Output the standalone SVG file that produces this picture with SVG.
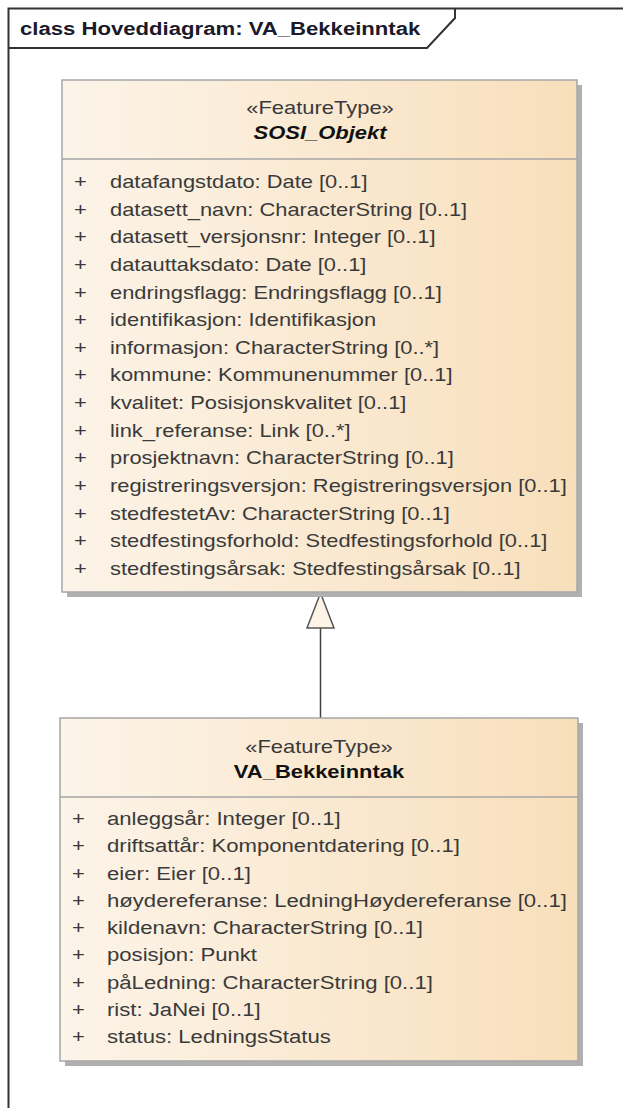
<svg xmlns="http://www.w3.org/2000/svg" width="623" height="1108" viewBox="0 0 623 1108">
<defs>
<linearGradient id="fill" x1="0" y1="0" x2="1" y2="0">
<stop offset="0" stop-color="#fcf4e9"/>
<stop offset="1" stop-color="#f8dfbb"/>
</linearGradient>
</defs>
<style>
text{font-family:"Liberation Sans",Arial,sans-serif;font-size:18px;fill:#3a3a3a}
.title{font-weight:bold;fill:#1a1a2a}
.name{font-weight:bold;fill:#111}
.ital{font-style:italic}
.box{fill:url(#fill);stroke:#a6a6a6;stroke-width:1.5}
.shadow{fill:#b0b0b0}
.div{stroke:#a6a6a6;stroke-width:1.5}
.frame{fill:none;stroke:#333;stroke-width:2}
.conn{stroke:#404040;stroke-width:1.5;fill:none}
.head{fill:#fdf3e6;stroke:#555;stroke-width:1.5}
</style>
<g id="frame">
<path class="frame" d="M8.5,1108 V8.5 H623"/>
<path class="frame" d="M8.5,48 H427 L455,18 V8.5"/>
<g transform="translate(20,0) scale(1.23,1)"><text class="title" x="0" y="35">class Hoveddiagram: VA_Bekkeinntak</text></g>
</g>
<g id="connectors">
<line class="conn" x1="320.5" y1="718" x2="320.5" y2="628"/>
<path class="head" d="M320.5,593 L334,628 L307,628 Z"/>
</g>
<g id="SOSI_Objekt">
<rect class="shadow" x="67" y="85" width="515" height="512"/>
<rect class="box" x="62" y="80" width="515" height="512"/>
<line class="div" x1="62" y1="159" x2="577" y2="159"/>
<g transform="translate(320,0) scale(1.22,1)">
<text x="0" y="114" text-anchor="middle">«FeatureType»</text>
<text class="name ital" x="0" y="139" text-anchor="middle">SOSI_Objekt</text>
</g>
<g transform="translate(74,0) scale(1.22,1)">
<text x="0" y="188">+</text><text x="0" y="215.6">+</text><text x="0" y="243.3">+</text><text x="0" y="270.9">+</text><text x="0" y="298.6">+</text><text x="0" y="326.2">+</text><text x="0" y="353.8">+</text><text x="0" y="381.5">+</text><text x="0" y="409.1">+</text><text x="0" y="436.8">+</text><text x="0" y="464.4">+</text><text x="0" y="492">+</text><text x="0" y="519.7">+</text><text x="0" y="547.3">+</text><text x="0" y="575">+</text>
</g>
<g transform="translate(110,0) scale(1.215,1)">
<text x="0" y="188">datafangstdato: Date [0..1]</text>
<text x="0" y="215.6">datasett_navn: CharacterString [0..1]</text>
<text x="0" y="243.3">datasett_versjonsnr: Integer [0..1]</text>
<text x="0" y="270.9">datauttaksdato: Date [0..1]</text>
<text x="0" y="298.6">endringsflagg: Endringsflagg [0..1]</text>
<text x="0" y="326.2">identifikasjon: Identifikasjon</text>
<text x="0" y="353.8">informasjon: CharacterString [0..*]</text>
<text x="0" y="381.5">kommune: Kommunenummer [0..1]</text>
<text x="0" y="409.1">kvalitet: Posisjonskvalitet [0..1]</text>
<text x="0" y="436.8">link_referanse: Link [0..*]</text>
<text x="0" y="464.4">prosjektnavn: CharacterString [0..1]</text>
<text x="0" y="492">registreringsversjon: Registreringsversjon [0..1]</text>
<text x="0" y="519.7">stedfestetAv: CharacterString [0..1]</text>
<text x="0" y="547.3">stedfestingsforhold: Stedfestingsforhold [0..1]</text>
<text x="0" y="575">stedfestingsårsak: Stedfestingsårsak [0..1]</text>
</g>
</g>
<g id="VA_Bekkeinntak">
<rect class="shadow" x="65" y="723" width="518" height="343"/>
<rect class="box" x="60" y="718" width="518" height="343"/>
<line class="div" x1="60" y1="797" x2="578" y2="797"/>
<g transform="translate(319,0) scale(1.22,1)">
<text x="0" y="753" text-anchor="middle">«FeatureType»</text>
<text class="name" x="0" y="778" text-anchor="middle">VA_Bekkeinntak</text>
</g>
<g transform="translate(72,0) scale(1.22,1)">
<text x="0" y="825">+</text><text x="0" y="852.3">+</text><text x="0" y="879.6">+</text><text x="0" y="906.9">+</text><text x="0" y="934.2">+</text><text x="0" y="961.5">+</text><text x="0" y="988.8">+</text><text x="0" y="1016.1">+</text><text x="0" y="1043.4">+</text>
</g>
<g transform="translate(107,0) scale(1.23,1)">
<text x="0" y="825">anleggsår: Integer [0..1]</text>
<text x="0" y="852.3">driftsattår: Komponentdatering [0..1]</text>
<text x="0" y="879.6">eier: Eier [0..1]</text>
<text x="0" y="906.9">høydereferanse: LedningHøydereferanse [0..1]</text>
<text x="0" y="934.2">kildenavn: CharacterString [0..1]</text>
<text x="0" y="961.5">posisjon: Punkt</text>
<text x="0" y="988.8">påLedning: CharacterString [0..1]</text>
<text x="0" y="1016.1">rist: JaNei [0..1]</text>
<text x="0" y="1043.4">status: LedningsStatus</text>
</g>
</g>
</svg>
